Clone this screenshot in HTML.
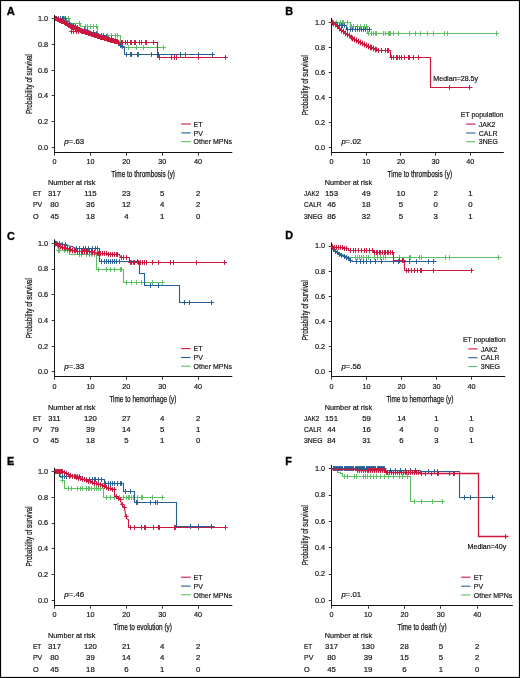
<!DOCTYPE html>
<html><head><meta charset="utf-8"><style>
html,body{margin:0;padding:0;background:#fff;}
svg{display:block;}
text{font-family:"Liberation Sans", sans-serif;}
.wrap{will-change:transform;width:520px;height:678px;overflow:hidden;}
text{stroke:#111;stroke-width:0.2px;}
.ti{stroke-width:0.25px;}
</style></head><body><div class="wrap">
<svg width="520" height="678" viewBox="0 0 520 678" font-family='"Liberation Sans", sans-serif'>
<rect x="0" y="0" width="520" height="678" fill="#fff"/>
<rect x="0.5" y="0.5" width="519" height="677" fill="none" stroke="#000" stroke-width="1.2"/>
<text x="6.7" y="14.8" font-size="10.8" textLength="8.1" lengthAdjust="spacingAndGlyphs" font-weight="bold" fill="#000" style="stroke:#000;stroke-width:0.35px">A</text>
<line x1="54.5" y1="15" x2="54.5" y2="153.0" stroke="#111" stroke-width="1.05"/>
<line x1="51.7" y1="147.50" x2="54.5" y2="147.50" stroke="#222" stroke-width="0.9"/>
<text x="48.1" y="149.54999999999998" font-size="7.7" text-anchor="end" textLength="10.2" lengthAdjust="spacingAndGlyphs" fill="#1a1a1a">0.0</text>
<line x1="51.7" y1="121.50" x2="54.5" y2="121.50" stroke="#222" stroke-width="0.9"/>
<text x="48.1" y="123.86999999999998" font-size="7.7" text-anchor="end" textLength="10.2" lengthAdjust="spacingAndGlyphs" fill="#1a1a1a">0.2</text>
<line x1="51.7" y1="95.50" x2="54.5" y2="95.50" stroke="#222" stroke-width="0.9"/>
<text x="48.1" y="98.18999999999997" font-size="7.7" text-anchor="end" textLength="10.2" lengthAdjust="spacingAndGlyphs" fill="#1a1a1a">0.4</text>
<line x1="51.7" y1="70.50" x2="54.5" y2="70.50" stroke="#222" stroke-width="0.9"/>
<text x="48.1" y="72.50999999999996" font-size="7.7" text-anchor="end" textLength="10.2" lengthAdjust="spacingAndGlyphs" fill="#1a1a1a">0.6</text>
<line x1="51.7" y1="44.50" x2="54.5" y2="44.50" stroke="#222" stroke-width="0.9"/>
<text x="48.1" y="46.82999999999998" font-size="7.7" text-anchor="end" textLength="10.2" lengthAdjust="spacingAndGlyphs" fill="#1a1a1a">0.8</text>
<line x1="51.7" y1="18.50" x2="54.5" y2="18.50" stroke="#222" stroke-width="0.9"/>
<text x="48.1" y="21.149999999999984" font-size="7.7" text-anchor="end" textLength="10.2" lengthAdjust="spacingAndGlyphs" fill="#1a1a1a">1.0</text>
<line x1="54.0" y1="152.5" x2="232.3" y2="152.5" stroke="#111" stroke-width="1.05"/>
<line x1="54.50" y1="152.5" x2="54.50" y2="155.7" stroke="#222" stroke-width="0.9"/>
<text x="54.50" y="164.0" font-size="7.6" text-anchor="middle" textLength="4.01" lengthAdjust="spacingAndGlyphs" fill="#1a1a1a">0</text>
<line x1="90.50" y1="152.5" x2="90.50" y2="155.7" stroke="#222" stroke-width="0.9"/>
<text x="90.40" y="164.0" font-size="7.6" text-anchor="middle" textLength="8.03" lengthAdjust="spacingAndGlyphs" fill="#1a1a1a">10</text>
<line x1="126.50" y1="152.5" x2="126.50" y2="155.7" stroke="#222" stroke-width="0.9"/>
<text x="126.30" y="164.0" font-size="7.6" text-anchor="middle" textLength="8.03" lengthAdjust="spacingAndGlyphs" fill="#1a1a1a">20</text>
<line x1="162.50" y1="152.5" x2="162.50" y2="155.7" stroke="#222" stroke-width="0.9"/>
<text x="162.20" y="164.0" font-size="7.6" text-anchor="middle" textLength="8.03" lengthAdjust="spacingAndGlyphs" fill="#1a1a1a">30</text>
<line x1="198.50" y1="152.5" x2="198.50" y2="155.7" stroke="#222" stroke-width="0.9"/>
<text x="198.10" y="164.0" font-size="7.6" text-anchor="middle" textLength="8.03" lengthAdjust="spacingAndGlyphs" fill="#1a1a1a">40</text>
<text x="111.2" y="176.9" font-size="8.8" textLength="63.8" lengthAdjust="spacingAndGlyphs" fill="#1a1a1a" class="ti">Time to thrombosis (y)</text>
<text class="ti" x="0" y="0" font-size="8.8" text-anchor="middle" textLength="60" lengthAdjust="spacingAndGlyphs" fill="#222" transform="translate(31.6,84.0) rotate(-90)">Probability of survival</text>
<text x="285.3" y="14.8" font-size="10.8" font-weight="bold" fill="#000" style="stroke:#000;stroke-width:0.35px">B</text>
<line x1="331.5" y1="18" x2="331.5" y2="153.0" stroke="#111" stroke-width="1.05"/>
<line x1="328.7" y1="147.50" x2="331.5" y2="147.50" stroke="#222" stroke-width="0.9"/>
<text x="325.1" y="149.7" font-size="7.7" text-anchor="end" textLength="10.2" lengthAdjust="spacingAndGlyphs" fill="#1a1a1a">0.0</text>
<line x1="328.7" y1="122.50" x2="331.5" y2="122.50" stroke="#222" stroke-width="0.9"/>
<text x="325.1" y="124.67999999999999" font-size="7.7" text-anchor="end" textLength="10.2" lengthAdjust="spacingAndGlyphs" fill="#1a1a1a">0.2</text>
<line x1="328.7" y1="97.50" x2="331.5" y2="97.50" stroke="#222" stroke-width="0.9"/>
<text x="325.1" y="99.66" font-size="7.7" text-anchor="end" textLength="10.2" lengthAdjust="spacingAndGlyphs" fill="#1a1a1a">0.4</text>
<line x1="328.7" y1="72.50" x2="331.5" y2="72.50" stroke="#222" stroke-width="0.9"/>
<text x="325.1" y="74.63999999999999" font-size="7.7" text-anchor="end" textLength="10.2" lengthAdjust="spacingAndGlyphs" fill="#1a1a1a">0.6</text>
<line x1="328.7" y1="47.50" x2="331.5" y2="47.50" stroke="#222" stroke-width="0.9"/>
<text x="325.1" y="49.62" font-size="7.7" text-anchor="end" textLength="10.2" lengthAdjust="spacingAndGlyphs" fill="#1a1a1a">0.8</text>
<line x1="328.7" y1="22.50" x2="331.5" y2="22.50" stroke="#222" stroke-width="0.9"/>
<text x="325.1" y="24.6" font-size="7.7" text-anchor="end" textLength="10.2" lengthAdjust="spacingAndGlyphs" fill="#1a1a1a">1.0</text>
<line x1="331.0" y1="152.5" x2="503.8" y2="152.5" stroke="#111" stroke-width="1.05"/>
<line x1="331.50" y1="152.5" x2="331.50" y2="155.7" stroke="#222" stroke-width="0.9"/>
<text x="331.50" y="164.0" font-size="7.6" text-anchor="middle" textLength="4.01" lengthAdjust="spacingAndGlyphs" fill="#1a1a1a">0</text>
<line x1="366.50" y1="152.5" x2="366.50" y2="155.7" stroke="#222" stroke-width="0.9"/>
<text x="366.20" y="164.0" font-size="7.6" text-anchor="middle" textLength="8.03" lengthAdjust="spacingAndGlyphs" fill="#1a1a1a">10</text>
<line x1="400.50" y1="152.5" x2="400.50" y2="155.7" stroke="#222" stroke-width="0.9"/>
<text x="400.90" y="164.0" font-size="7.6" text-anchor="middle" textLength="8.03" lengthAdjust="spacingAndGlyphs" fill="#1a1a1a">20</text>
<line x1="435.50" y1="152.5" x2="435.50" y2="155.7" stroke="#222" stroke-width="0.9"/>
<text x="435.60" y="164.0" font-size="7.6" text-anchor="middle" textLength="8.03" lengthAdjust="spacingAndGlyphs" fill="#1a1a1a">30</text>
<line x1="470.50" y1="152.5" x2="470.50" y2="155.7" stroke="#222" stroke-width="0.9"/>
<text x="470.30" y="164.0" font-size="7.6" text-anchor="middle" textLength="8.03" lengthAdjust="spacingAndGlyphs" fill="#1a1a1a">40</text>
<text x="387.6" y="176.9" font-size="8.8" textLength="64.59999999999997" lengthAdjust="spacingAndGlyphs" fill="#1a1a1a" class="ti">Time to thrombosis (y)</text>
<text class="ti" x="0" y="0" font-size="8.8" text-anchor="middle" textLength="60" lengthAdjust="spacingAndGlyphs" fill="#222" transform="translate(308.1,85.2) rotate(-90)">Probability of survival</text>
<text x="6.9" y="239.7" font-size="10.8" font-weight="bold" fill="#000" style="stroke:#000;stroke-width:0.35px">C</text>
<line x1="54.5" y1="239.3" x2="54.5" y2="377.0" stroke="#111" stroke-width="1.05"/>
<line x1="51.7" y1="371.50" x2="54.5" y2="371.50" stroke="#222" stroke-width="0.9"/>
<text x="48.1" y="374.25" font-size="7.7" text-anchor="end" textLength="10.2" lengthAdjust="spacingAndGlyphs" fill="#1a1a1a">0.0</text>
<line x1="51.7" y1="346.50" x2="54.5" y2="346.50" stroke="#222" stroke-width="0.9"/>
<text x="48.1" y="348.55" font-size="7.7" text-anchor="end" textLength="10.2" lengthAdjust="spacingAndGlyphs" fill="#1a1a1a">0.2</text>
<line x1="51.7" y1="320.50" x2="54.5" y2="320.50" stroke="#222" stroke-width="0.9"/>
<text x="48.1" y="322.85" font-size="7.7" text-anchor="end" textLength="10.2" lengthAdjust="spacingAndGlyphs" fill="#1a1a1a">0.4</text>
<line x1="51.7" y1="294.50" x2="54.5" y2="294.50" stroke="#222" stroke-width="0.9"/>
<text x="48.1" y="297.15" font-size="7.7" text-anchor="end" textLength="10.2" lengthAdjust="spacingAndGlyphs" fill="#1a1a1a">0.6</text>
<line x1="51.7" y1="269.50" x2="54.5" y2="269.50" stroke="#222" stroke-width="0.9"/>
<text x="48.1" y="271.45" font-size="7.7" text-anchor="end" textLength="10.2" lengthAdjust="spacingAndGlyphs" fill="#1a1a1a">0.8</text>
<line x1="51.7" y1="243.50" x2="54.5" y2="243.50" stroke="#222" stroke-width="0.9"/>
<text x="48.1" y="245.74999999999997" font-size="7.7" text-anchor="end" textLength="10.2" lengthAdjust="spacingAndGlyphs" fill="#1a1a1a">1.0</text>
<line x1="54.0" y1="376.5" x2="232.3" y2="376.5" stroke="#111" stroke-width="1.05"/>
<line x1="54.50" y1="376.5" x2="54.50" y2="379.7" stroke="#222" stroke-width="0.9"/>
<text x="54.50" y="388.79999999999995" font-size="7.6" text-anchor="middle" textLength="4.01" lengthAdjust="spacingAndGlyphs" fill="#1a1a1a">0</text>
<line x1="90.50" y1="376.5" x2="90.50" y2="379.7" stroke="#222" stroke-width="0.9"/>
<text x="90.40" y="388.79999999999995" font-size="7.6" text-anchor="middle" textLength="8.03" lengthAdjust="spacingAndGlyphs" fill="#1a1a1a">10</text>
<line x1="126.50" y1="376.5" x2="126.50" y2="379.7" stroke="#222" stroke-width="0.9"/>
<text x="126.30" y="388.79999999999995" font-size="7.6" text-anchor="middle" textLength="8.03" lengthAdjust="spacingAndGlyphs" fill="#1a1a1a">20</text>
<line x1="162.50" y1="376.5" x2="162.50" y2="379.7" stroke="#222" stroke-width="0.9"/>
<text x="162.20" y="388.79999999999995" font-size="7.6" text-anchor="middle" textLength="8.03" lengthAdjust="spacingAndGlyphs" fill="#1a1a1a">30</text>
<line x1="198.50" y1="376.5" x2="198.50" y2="379.7" stroke="#222" stroke-width="0.9"/>
<text x="198.10" y="388.79999999999995" font-size="7.6" text-anchor="middle" textLength="8.03" lengthAdjust="spacingAndGlyphs" fill="#1a1a1a">40</text>
<text x="109.4" y="401.6" font-size="8.8" textLength="67.0" lengthAdjust="spacingAndGlyphs" fill="#1a1a1a" class="ti">Time to hemorrhage (y)</text>
<text class="ti" x="0" y="0" font-size="8.8" text-anchor="middle" textLength="60" lengthAdjust="spacingAndGlyphs" fill="#222" transform="translate(31.6,308.2) rotate(-90)">Probability of survival</text>
<text x="285.3" y="239.0" font-size="10.8" font-weight="bold" fill="#000" style="stroke:#000;stroke-width:0.35px">D</text>
<line x1="331.5" y1="242.4" x2="331.5" y2="377.0" stroke="#111" stroke-width="1.05"/>
<line x1="328.7" y1="371.50" x2="331.5" y2="371.50" stroke="#222" stroke-width="0.9"/>
<text x="325.1" y="374.25" font-size="7.7" text-anchor="end" textLength="10.2" lengthAdjust="spacingAndGlyphs" fill="#1a1a1a">0.0</text>
<line x1="328.7" y1="346.50" x2="331.5" y2="346.50" stroke="#222" stroke-width="0.9"/>
<text x="325.1" y="349.09" font-size="7.7" text-anchor="end" textLength="10.2" lengthAdjust="spacingAndGlyphs" fill="#1a1a1a">0.2</text>
<line x1="328.7" y1="321.50" x2="331.5" y2="321.50" stroke="#222" stroke-width="0.9"/>
<text x="325.1" y="323.93" font-size="7.7" text-anchor="end" textLength="10.2" lengthAdjust="spacingAndGlyphs" fill="#1a1a1a">0.4</text>
<line x1="328.7" y1="296.50" x2="331.5" y2="296.50" stroke="#222" stroke-width="0.9"/>
<text x="325.1" y="298.77" font-size="7.7" text-anchor="end" textLength="10.2" lengthAdjust="spacingAndGlyphs" fill="#1a1a1a">0.6</text>
<line x1="328.7" y1="271.50" x2="331.5" y2="271.50" stroke="#222" stroke-width="0.9"/>
<text x="325.1" y="273.61" font-size="7.7" text-anchor="end" textLength="10.2" lengthAdjust="spacingAndGlyphs" fill="#1a1a1a">0.8</text>
<line x1="328.7" y1="246.50" x2="331.5" y2="246.50" stroke="#222" stroke-width="0.9"/>
<text x="325.1" y="248.44999999999996" font-size="7.7" text-anchor="end" textLength="10.2" lengthAdjust="spacingAndGlyphs" fill="#1a1a1a">1.0</text>
<line x1="331.0" y1="376.5" x2="505.2" y2="376.5" stroke="#111" stroke-width="1.05"/>
<line x1="331.50" y1="376.5" x2="331.50" y2="379.7" stroke="#222" stroke-width="0.9"/>
<text x="331.50" y="388.59999999999997" font-size="7.6" text-anchor="middle" textLength="4.01" lengthAdjust="spacingAndGlyphs" fill="#1a1a1a">0</text>
<line x1="366.50" y1="376.5" x2="366.50" y2="379.7" stroke="#222" stroke-width="0.9"/>
<text x="366.50" y="388.59999999999997" font-size="7.6" text-anchor="middle" textLength="8.03" lengthAdjust="spacingAndGlyphs" fill="#1a1a1a">10</text>
<line x1="401.50" y1="376.5" x2="401.50" y2="379.7" stroke="#222" stroke-width="0.9"/>
<text x="401.50" y="388.59999999999997" font-size="7.6" text-anchor="middle" textLength="8.03" lengthAdjust="spacingAndGlyphs" fill="#1a1a1a">20</text>
<line x1="436.50" y1="376.5" x2="436.50" y2="379.7" stroke="#222" stroke-width="0.9"/>
<text x="436.50" y="388.59999999999997" font-size="7.6" text-anchor="middle" textLength="8.03" lengthAdjust="spacingAndGlyphs" fill="#1a1a1a">30</text>
<line x1="471.50" y1="376.5" x2="471.50" y2="379.7" stroke="#222" stroke-width="0.9"/>
<text x="471.50" y="388.59999999999997" font-size="7.6" text-anchor="middle" textLength="8.03" lengthAdjust="spacingAndGlyphs" fill="#1a1a1a">40</text>
<text x="386.4" y="401.6" font-size="8.8" textLength="67.0" lengthAdjust="spacingAndGlyphs" fill="#1a1a1a" class="ti">Time to hemorrhage (y)</text>
<text class="ti" x="0" y="0" font-size="8.8" text-anchor="middle" textLength="60" lengthAdjust="spacingAndGlyphs" fill="#222" transform="translate(308.1,310.2) rotate(-90)">Probability of survival</text>
<text x="6.9" y="464.8" font-size="10.8" font-weight="bold" fill="#000" style="stroke:#000;stroke-width:0.35px">E</text>
<line x1="54.5" y1="467.7" x2="54.5" y2="606.0" stroke="#111" stroke-width="1.05"/>
<line x1="51.7" y1="600.50" x2="54.5" y2="600.50" stroke="#222" stroke-width="0.9"/>
<text x="48.1" y="602.5500000000001" font-size="7.7" text-anchor="end" textLength="10.2" lengthAdjust="spacingAndGlyphs" fill="#1a1a1a">0.0</text>
<line x1="51.7" y1="574.50" x2="54.5" y2="574.50" stroke="#222" stroke-width="0.9"/>
<text x="48.1" y="576.83" font-size="7.7" text-anchor="end" textLength="10.2" lengthAdjust="spacingAndGlyphs" fill="#1a1a1a">0.2</text>
<line x1="51.7" y1="548.50" x2="54.5" y2="548.50" stroke="#222" stroke-width="0.9"/>
<text x="48.1" y="551.11" font-size="7.7" text-anchor="end" textLength="10.2" lengthAdjust="spacingAndGlyphs" fill="#1a1a1a">0.4</text>
<line x1="51.7" y1="523.50" x2="54.5" y2="523.50" stroke="#222" stroke-width="0.9"/>
<text x="48.1" y="525.3900000000001" font-size="7.7" text-anchor="end" textLength="10.2" lengthAdjust="spacingAndGlyphs" fill="#1a1a1a">0.6</text>
<line x1="51.7" y1="497.50" x2="54.5" y2="497.50" stroke="#222" stroke-width="0.9"/>
<text x="48.1" y="499.6700000000001" font-size="7.7" text-anchor="end" textLength="10.2" lengthAdjust="spacingAndGlyphs" fill="#1a1a1a">0.8</text>
<line x1="51.7" y1="471.50" x2="54.5" y2="471.50" stroke="#222" stroke-width="0.9"/>
<text x="48.1" y="473.95000000000005" font-size="7.7" text-anchor="end" textLength="10.2" lengthAdjust="spacingAndGlyphs" fill="#1a1a1a">1.0</text>
<line x1="54.0" y1="605.5" x2="232.3" y2="605.5" stroke="#111" stroke-width="1.05"/>
<line x1="54.50" y1="605.5" x2="54.50" y2="608.7" stroke="#222" stroke-width="0.9"/>
<text x="54.50" y="617.0" font-size="7.6" text-anchor="middle" textLength="4.01" lengthAdjust="spacingAndGlyphs" fill="#1a1a1a">0</text>
<line x1="90.50" y1="605.5" x2="90.50" y2="608.7" stroke="#222" stroke-width="0.9"/>
<text x="90.40" y="617.0" font-size="7.6" text-anchor="middle" textLength="8.03" lengthAdjust="spacingAndGlyphs" fill="#1a1a1a">10</text>
<line x1="126.50" y1="605.5" x2="126.50" y2="608.7" stroke="#222" stroke-width="0.9"/>
<text x="126.30" y="617.0" font-size="7.6" text-anchor="middle" textLength="8.03" lengthAdjust="spacingAndGlyphs" fill="#1a1a1a">20</text>
<line x1="162.50" y1="605.5" x2="162.50" y2="608.7" stroke="#222" stroke-width="0.9"/>
<text x="162.20" y="617.0" font-size="7.6" text-anchor="middle" textLength="8.03" lengthAdjust="spacingAndGlyphs" fill="#1a1a1a">30</text>
<line x1="198.50" y1="605.5" x2="198.50" y2="608.7" stroke="#222" stroke-width="0.9"/>
<text x="198.10" y="617.0" font-size="7.6" text-anchor="middle" textLength="8.03" lengthAdjust="spacingAndGlyphs" fill="#1a1a1a">40</text>
<text x="113.6" y="629.9" font-size="8.8" textLength="58.400000000000006" lengthAdjust="spacingAndGlyphs" fill="#1a1a1a" class="ti">Time to evolution (y)</text>
<text class="ti" x="0" y="0" font-size="8.8" text-anchor="middle" textLength="60" lengthAdjust="spacingAndGlyphs" fill="#222" transform="translate(31.6,536.4) rotate(-90)">Probability of survival</text>
<text x="285.3" y="464.6" font-size="10.8" font-weight="bold" fill="#000" style="stroke:#000;stroke-width:0.35px">F</text>
<line x1="331.5" y1="465" x2="331.5" y2="606.0" stroke="#111" stroke-width="1.05"/>
<line x1="328.7" y1="600.50" x2="331.5" y2="600.50" stroke="#222" stroke-width="0.9"/>
<text x="325.20000000000005" y="602.65" font-size="7.7" text-anchor="end" textLength="10.2" lengthAdjust="spacingAndGlyphs" fill="#1a1a1a">0.0</text>
<line x1="328.7" y1="574.50" x2="331.5" y2="574.50" stroke="#222" stroke-width="0.9"/>
<text x="325.20000000000005" y="576.36" font-size="7.7" text-anchor="end" textLength="10.2" lengthAdjust="spacingAndGlyphs" fill="#1a1a1a">0.2</text>
<line x1="328.7" y1="547.50" x2="331.5" y2="547.50" stroke="#222" stroke-width="0.9"/>
<text x="325.20000000000005" y="550.0699999999999" font-size="7.7" text-anchor="end" textLength="10.2" lengthAdjust="spacingAndGlyphs" fill="#1a1a1a">0.4</text>
<line x1="328.7" y1="521.50" x2="331.5" y2="521.50" stroke="#222" stroke-width="0.9"/>
<text x="325.20000000000005" y="523.78" font-size="7.7" text-anchor="end" textLength="10.2" lengthAdjust="spacingAndGlyphs" fill="#1a1a1a">0.6</text>
<line x1="328.7" y1="495.50" x2="331.5" y2="495.50" stroke="#222" stroke-width="0.9"/>
<text x="325.20000000000005" y="497.49" font-size="7.7" text-anchor="end" textLength="10.2" lengthAdjust="spacingAndGlyphs" fill="#1a1a1a">0.8</text>
<line x1="328.7" y1="468.50" x2="331.5" y2="468.50" stroke="#222" stroke-width="0.9"/>
<text x="325.20000000000005" y="471.2" font-size="7.7" text-anchor="end" textLength="10.2" lengthAdjust="spacingAndGlyphs" fill="#1a1a1a">1.0</text>
<line x1="331.0" y1="605.5" x2="512.8" y2="605.5" stroke="#111" stroke-width="1.05"/>
<line x1="331.50" y1="605.5" x2="331.50" y2="608.7" stroke="#222" stroke-width="0.9"/>
<text x="331.60" y="617.1" font-size="7.6" text-anchor="middle" textLength="4.01" lengthAdjust="spacingAndGlyphs" fill="#1a1a1a">0</text>
<line x1="368.50" y1="605.5" x2="368.50" y2="608.7" stroke="#222" stroke-width="0.9"/>
<text x="368.00" y="617.1" font-size="7.6" text-anchor="middle" textLength="8.03" lengthAdjust="spacingAndGlyphs" fill="#1a1a1a">10</text>
<line x1="404.50" y1="605.5" x2="404.50" y2="608.7" stroke="#222" stroke-width="0.9"/>
<text x="404.40" y="617.1" font-size="7.6" text-anchor="middle" textLength="8.03" lengthAdjust="spacingAndGlyphs" fill="#1a1a1a">20</text>
<line x1="440.50" y1="605.5" x2="440.50" y2="608.7" stroke="#222" stroke-width="0.9"/>
<text x="440.80" y="617.1" font-size="7.6" text-anchor="middle" textLength="8.03" lengthAdjust="spacingAndGlyphs" fill="#1a1a1a">30</text>
<line x1="477.50" y1="605.5" x2="477.50" y2="608.7" stroke="#222" stroke-width="0.9"/>
<text x="477.20" y="617.1" font-size="7.6" text-anchor="middle" textLength="8.03" lengthAdjust="spacingAndGlyphs" fill="#1a1a1a">40</text>
<text x="397.4" y="629.9" font-size="8.8" textLength="49.200000000000045" lengthAdjust="spacingAndGlyphs" fill="#1a1a1a" class="ti">Time to death (y)</text>
<text class="ti" x="0" y="0" font-size="8.8" text-anchor="middle" textLength="60" lengthAdjust="spacingAndGlyphs" fill="#222" transform="translate(308.1,535.2) rotate(-90)">Probability of survival</text>
<path d="M54.50,18.50 L69.50,18.50 L69.50,23.50 L80.50,23.50 L80.50,26.50 L97.50,26.50 L97.50,35.50 L120.50,35.50 L120.50,47.50 L165.50,47.50" fill="none" stroke="#5cbf63" stroke-width="1.1"/>
<path d="M64.50,16.10V20.90M62.30,18.50H66.70M68.50,16.10V20.90M66.30,18.50H70.70M79.50,21.10V25.90M77.30,23.50H81.70M85.50,24.10V28.90M83.30,26.50H87.70M87.50,24.10V28.90M85.30,26.50H89.70M90.50,24.10V28.90M88.30,26.50H92.70M93.50,24.10V28.90M91.30,26.50H95.70M96.50,24.10V28.90M94.30,26.50H98.70M107.50,33.10V37.90M105.30,35.50H109.70M111.50,33.10V37.90M109.30,35.50H113.70M115.50,33.10V37.90M113.30,35.50H117.70M117.50,33.10V37.90M115.30,35.50H119.70M128.50,45.10V49.90M126.30,47.50H130.70M136.50,45.10V49.90M134.30,47.50H138.70M143.50,45.10V49.90M141.30,47.50H145.70M163.50,45.10V49.90M161.30,47.50H165.70" fill="none" stroke="#5cbf63" stroke-width="1.0"/>
<path d="M54.50,18.50 L65.50,18.50 L66.50,20.50 L69.50,22.50 L72.50,24.50 L76.50,26.50 L80.50,28.50 L89.50,31.50 L99.50,34.50 L108.50,37.50 L116.50,41.50 L120.50,45.50 L124.50,47.50 L124.50,54.50 L214.50,54.50" fill="none" stroke="#255f95" stroke-width="1.1"/>
<path d="M58.50,16.10V20.90M56.30,18.50H60.70M60.50,16.10V20.90M58.30,18.50H62.70M62.50,16.10V20.90M60.30,18.50H64.70M63.50,16.10V20.90M61.30,18.50H65.70M65.50,16.10V20.90M63.30,18.50H67.70M73.50,23.10V27.90M71.30,25.50H75.70M75.50,24.10V28.90M73.30,26.50H77.70M77.50,25.10V29.90M75.30,27.50H79.70M84.50,27.10V31.90M82.30,29.50H86.70M87.50,28.10V32.90M85.30,30.50H89.70M93.50,30.10V34.90M91.30,32.50H95.70M96.50,31.10V35.90M94.30,33.50H98.70M101.50,33.10V37.90M99.30,35.50H103.70M103.50,33.10V37.90M101.30,35.50H105.70M106.50,34.10V38.90M104.30,36.50H108.70M111.50,36.10V40.90M109.30,38.50H113.70M115.50,38.10V42.90M113.30,40.50H117.70M118.50,41.10V45.90M116.30,43.50H120.70M120.50,43.10V47.90M118.30,45.50H122.70M122.50,44.10V48.90M120.30,46.50H124.70M126.50,52.10V56.90M124.30,54.50H128.70M130.50,52.10V56.90M128.30,54.50H132.70M131.50,52.10V56.90M129.30,54.50H133.70M137.50,52.10V56.90M135.30,54.50H139.70M138.50,52.10V56.90M136.30,54.50H140.70M151.50,52.10V56.90M149.30,54.50H153.70M158.50,52.10V56.90M156.30,54.50H160.70M180.50,52.10V56.90M178.30,54.50H182.70M185.50,52.10V56.90M183.30,54.50H187.70M198.50,52.10V56.90M196.30,54.50H200.70M212.50,52.10V56.90M210.30,54.50H214.70" fill="none" stroke="#255f95" stroke-width="1.0"/>
<path d="M55.50,16.00V21.00M53.50,18.50H57.50M56.50,16.00V21.00M54.50,18.50H58.50M57.50,17.00V22.00M55.50,19.50H59.50M58.50,17.00V22.00M56.50,19.50H60.50M59.50,18.00V23.00M57.50,20.50H61.50M60.50,18.00V23.00M58.50,20.50H62.50M61.50,19.00V24.00M59.50,21.50H63.50M62.50,19.00V24.00M60.50,21.50H64.50M63.50,19.00V24.00M61.50,21.50H65.50M64.50,20.00V25.00M62.50,22.50H66.50M65.50,21.00V26.00M63.50,23.50H67.50M66.50,21.00V26.00M64.50,23.50H68.50M67.50,22.00V27.00M65.50,24.50H69.50M68.50,23.00V28.00M66.50,25.50H70.50M69.50,23.00V28.00M67.50,25.50H71.50M70.50,24.00V29.00M68.50,26.50H72.50M71.50,24.00V29.00M69.50,26.50H73.50M72.50,25.00V30.00M70.50,27.50H74.50M73.50,25.00V30.00M71.50,27.50H75.50M74.50,25.00V30.00M72.50,27.50H76.50M75.50,26.00V31.00M73.50,28.50H77.50M76.50,26.00V31.00M74.50,28.50H78.50M77.50,27.00V32.00M75.50,29.50H79.50M78.50,27.00V32.00M76.50,29.50H80.50M79.50,27.00V32.00M77.50,29.50H81.50M80.50,28.00V33.00M78.50,30.50H82.50M81.50,28.00V33.00M79.50,30.50H83.50M82.50,29.00V34.00M80.50,31.50H84.50M83.50,29.00V34.00M81.50,31.50H85.50M84.50,29.00V34.00M82.50,31.50H86.50M85.50,30.00V35.00M83.50,32.50H87.50M86.50,30.00V35.00M84.50,32.50H88.50M87.50,30.00V35.00M85.50,32.50H89.50M88.50,31.00V36.00M86.50,33.50H90.50M89.50,31.00V36.00M87.50,33.50H91.50M90.50,31.00V36.00M88.50,33.50H92.50M91.50,32.00V37.00M89.50,34.50H93.50M92.50,32.00V37.00M90.50,34.50H94.50M93.50,32.00V37.00M91.50,34.50H95.50M94.50,33.00V38.00M92.50,35.50H96.50M95.50,33.00V38.00M93.50,35.50H97.50M96.50,33.00V38.00M94.50,35.50H98.50M97.50,34.00V39.00M95.50,36.50H99.50M98.50,34.00V39.00M96.50,36.50H100.50M99.50,34.00V39.00M97.50,36.50H101.50M100.50,35.00V40.00M98.50,37.50H102.50M101.50,35.00V40.00M99.50,37.50H103.50M102.50,35.00V40.00M100.50,37.50H104.50M103.50,35.00V40.00M101.50,37.50H105.50M104.50,36.00V41.00M102.50,38.50H106.50M105.50,36.00V41.00M103.50,38.50H107.50M106.50,36.00V41.00M104.50,38.50H108.50M107.50,37.00V42.00M105.50,39.50H109.50M108.50,37.00V42.00M106.50,39.50H110.50M109.50,37.00V42.00M107.50,39.50H111.50M110.50,38.00V43.00M108.50,40.50H112.50M111.50,38.00V43.00M109.50,40.50H113.50M112.50,38.00V43.00M110.50,40.50H114.50M113.50,38.00V43.00M111.50,40.50H115.50M114.50,39.00V44.00M112.50,41.50H116.50M115.50,39.00V44.00M113.50,41.50H117.50M116.50,39.00V44.00M114.50,41.50H118.50M117.50,39.00V44.00M115.50,41.50H119.50M118.50,40.00V45.00M116.50,42.50H120.50" fill="none" stroke="#c9183f" stroke-width="1.0"/>
<path d="M54.50,18.50 L59.50,20.50 L64.50,22.50 L66.50,23.50 L70.50,26.50 L76.50,28.50 L80.50,30.50 L89.50,33.50 L99.50,36.50 L108.50,39.50 L119.50,42.50 L157.50,42.50 L157.50,57.50 L227.50,57.50" fill="none" stroke="#c9183f" stroke-width="1.1"/>
<path d="M121.50,40.10V44.90M119.30,42.50H123.70M122.50,40.10V44.90M120.30,42.50H124.70M125.50,40.10V44.90M123.30,42.50H127.70M127.50,40.10V44.90M125.30,42.50H129.70M130.50,40.10V44.90M128.30,42.50H132.70M131.50,40.10V44.90M129.30,42.50H133.70M134.50,40.10V44.90M132.30,42.50H136.70M135.50,40.10V44.90M133.30,42.50H137.70M139.50,40.10V44.90M137.30,42.50H141.70M141.50,40.10V44.90M139.30,42.50H143.70M145.50,40.10V44.90M143.30,42.50H147.70M146.50,40.10V44.90M144.30,42.50H148.70M153.50,40.10V44.90M151.30,42.50H155.70M159.50,55.10V59.90M157.30,57.50H161.70M171.50,55.10V59.90M169.30,57.50H173.70M174.50,55.10V59.90M172.30,57.50H176.70M176.50,55.10V59.90M174.30,57.50H178.70M198.50,55.10V59.90M196.30,57.50H200.70M225.50,55.10V59.90M223.30,57.50H227.70" fill="none" stroke="#c9183f" stroke-width="1.0"/>
<path d="M70.50,31.50 L83.50,31.50" fill="none" stroke="#c9183f" stroke-width="1.1"/>
<path d="M71.50,29.10V33.90M69.30,31.50H73.70M73.50,29.10V33.90M71.30,31.50H75.70M76.50,29.10V33.90M74.30,31.50H78.70M78.50,29.10V33.90M76.30,31.50H80.70M81.50,29.10V33.90M79.30,31.50H83.70" fill="none" stroke="#c9183f" stroke-width="1.0"/>
<path d="M331.50,22.50 L350.50,22.50 L350.50,26.50 L367.50,26.50 L367.50,33.50 L498.50,33.50" fill="none" stroke="#5cbf63" stroke-width="1.1"/>
<path d="M336.50,20.10V24.90M334.30,22.50H338.70M340.50,20.10V24.90M338.30,22.50H342.70M342.50,20.10V24.90M340.30,22.50H344.70M343.50,20.10V24.90M341.30,22.50H345.70M347.50,20.10V24.90M345.30,22.50H349.70M351.50,24.10V28.90M349.30,26.50H353.70M353.50,24.10V28.90M351.30,26.50H355.70M357.50,24.10V28.90M355.30,26.50H359.70M360.50,24.10V28.90M358.30,26.50H362.70M364.50,24.10V28.90M362.30,26.50H366.70M366.50,24.10V28.90M364.30,26.50H368.70M368.50,31.10V35.90M366.30,33.50H370.70M371.50,31.10V35.90M369.30,33.50H373.70M373.50,31.10V35.90M371.30,33.50H375.70M375.50,31.10V35.90M373.30,33.50H377.70M376.50,31.10V35.90M374.30,33.50H378.70M383.50,31.10V35.90M381.30,33.50H385.70M383.50,31.10V35.90M381.30,33.50H385.70M385.50,31.10V35.90M383.30,33.50H387.70M388.50,31.10V35.90M386.30,33.50H390.70M389.50,31.10V35.90M387.30,33.50H391.70M390.50,31.10V35.90M388.30,33.50H392.70M393.50,31.10V35.90M391.30,33.50H395.70M398.50,31.10V35.90M396.30,33.50H400.70M409.50,31.10V35.90M407.30,33.50H411.70M415.50,31.10V35.90M413.30,33.50H417.70M420.50,31.10V35.90M418.30,33.50H422.70M427.50,31.10V35.90M425.30,33.50H429.70M433.50,31.10V35.90M431.30,33.50H435.70M444.50,31.10V35.90M442.30,33.50H446.70M447.50,31.10V35.90M445.30,33.50H449.70M496.50,31.10V35.90M494.30,33.50H498.70" fill="none" stroke="#5cbf63" stroke-width="1.0"/>
<path d="M331.50,22.50 L337.50,22.50 L337.50,25.50 L346.50,25.50 L346.50,29.50 L371.50,29.50" fill="none" stroke="#255f95" stroke-width="1.1"/>
<path d="M339.50,23.20V27.80M337.30,25.50H341.70M341.50,23.20V27.80M339.30,25.50H343.70M342.50,23.20V27.80M340.30,25.50H344.70M344.50,23.20V27.80M342.30,25.50H346.70M347.50,27.20V31.80M345.30,29.50H349.70M350.50,27.20V31.80M348.30,29.50H352.70M352.50,27.20V31.80M350.30,29.50H354.70M355.50,27.20V31.80M353.30,29.50H357.70M357.50,27.20V31.80M355.30,29.50H359.70M359.50,27.20V31.80M357.30,29.50H361.70M361.50,27.20V31.80M359.30,29.50H363.70M363.50,27.20V31.80M361.30,29.50H365.70M365.50,27.20V31.80M363.30,29.50H367.70M369.50,27.20V31.80M367.30,29.50H371.70" fill="none" stroke="#255f95" stroke-width="1.0"/>
<path d="M332.50,19.60V25.40M330.20,22.50H334.80M333.50,20.60V26.40M331.20,23.50H335.80M335.50,21.60V27.40M333.20,24.50H337.80M337.50,23.60V29.40M335.20,26.50H339.80M339.50,25.60V31.40M337.20,28.50H341.80M341.50,27.60V33.40M339.20,30.50H343.80M343.50,28.60V34.40M341.20,31.50H345.80M345.50,30.60V36.40M343.20,33.50H347.80M347.50,31.60V37.40M345.20,34.50H349.80M349.50,32.60V38.40M347.20,35.50H351.80M351.50,34.60V40.40M349.20,37.50H353.80M352.50,35.60V41.40M350.20,38.50H354.80M354.50,36.60V42.40M352.20,39.50H356.80M356.50,37.60V43.40M354.20,40.50H358.80M358.50,38.60V44.40M356.20,41.50H360.80M360.50,39.60V45.40M358.20,42.50H362.80M362.50,40.60V46.40M360.20,43.50H364.80M364.50,41.60V47.40M362.20,44.50H366.80M366.50,42.60V48.40M364.20,45.50H368.80M368.50,43.60V49.40M366.20,46.50H370.80M370.50,44.60V50.40M368.20,47.50H372.80M371.50,44.60V50.40M369.20,47.50H373.80M373.50,45.60V51.40M371.20,48.50H375.80M375.50,46.60V52.40M373.20,49.50H377.80" fill="none" stroke="#c9183f" stroke-width="1.0"/>
<path d="M331.50,22.50 L333.50,23.50 L335.50,24.50 L338.50,27.50 L341.50,30.50 L345.50,33.50 L349.50,35.50 L354.50,39.50 L358.50,41.50 L363.50,44.50 L368.50,46.50 L372.50,48.50 L376.50,49.50 L377.50,50.50 L390.50,50.50 L390.50,57.50 L430.50,57.50 L430.50,87.50 L472.50,87.50" fill="none" stroke="#c9183f" stroke-width="1.2"/>
<path d="M376.50,47.10V51.90M374.30,49.50H378.70M378.50,48.10V52.90M376.30,50.50H380.70M381.50,48.10V52.90M379.30,50.50H383.70M385.50,48.10V52.90M383.30,50.50H387.70M387.50,48.10V52.90M385.30,50.50H389.70M388.50,48.10V52.90M386.30,50.50H390.70M391.50,55.10V59.90M389.30,57.50H393.70M393.50,55.10V59.90M391.30,57.50H395.70M396.50,55.10V59.90M394.30,57.50H398.70M397.50,55.10V59.90M395.30,57.50H399.70M399.50,55.10V59.90M397.30,57.50H401.70M401.50,55.10V59.90M399.30,57.50H403.70M404.50,55.10V59.90M402.30,57.50H406.70M408.50,55.10V59.90M406.30,57.50H410.70M409.50,55.10V59.90M407.30,57.50H411.70M413.50,55.10V59.90M411.30,57.50H415.70M418.50,55.10V59.90M416.30,57.50H420.70M449.50,85.10V89.90M447.30,87.50H451.70M469.50,85.10V89.90M467.30,87.50H471.70" fill="none" stroke="#c9183f" stroke-width="1.0"/>
<path d="M58.50,248.10V252.90M56.30,250.50H60.70M59.50,248.10V252.90M57.30,250.50H61.70M64.50,248.10V252.90M62.30,250.50H66.70M67.50,248.10V252.90M65.30,250.50H69.70" fill="none" stroke="#5cbf63" stroke-width="1.0"/>
<path d="M54.50,243.50 L58.50,246.50 L62.50,248.50 L69.50,249.50 L69.50,254.50 L96.50,254.50 L96.50,269.50 L123.50,269.50 L123.50,282.50 L164.50,282.50" fill="none" stroke="#5cbf63" stroke-width="1.1"/>
<path d="M79.50,252.10V256.90M77.30,254.50H81.70M81.50,252.10V256.90M79.30,254.50H83.70M86.50,252.10V256.90M84.30,254.50H88.70M89.50,252.10V256.90M87.30,254.50H91.70M91.50,252.10V256.90M89.30,254.50H93.70M94.50,252.10V256.90M92.30,254.50H96.70M98.50,267.10V271.90M96.30,269.50H100.70M106.50,267.10V271.90M104.30,269.50H108.70M110.50,267.10V271.90M108.30,269.50H112.70M114.50,267.10V271.90M112.30,269.50H116.70M120.50,267.10V271.90M118.30,269.50H122.70M121.50,267.10V271.90M119.30,269.50H123.70M126.50,280.10V284.90M124.30,282.50H128.70M131.50,280.10V284.90M129.30,282.50H133.70M136.50,280.10V284.90M134.30,282.50H138.70M141.50,280.10V284.90M139.30,282.50H143.70M152.50,280.10V284.90M150.30,282.50H154.70M162.50,280.10V284.90M160.30,282.50H164.70" fill="none" stroke="#5cbf63" stroke-width="1.0"/>
<path d="M54.50,243.50 L60.50,243.50 L66.50,245.50 L72.50,246.50 L75.50,248.50 L99.50,248.50 L99.50,261.50 L139.50,261.50 L139.50,273.50 L144.50,273.50 L144.50,285.50 L179.50,285.50 L179.50,302.50 L213.50,302.50" fill="none" stroke="#255f95" stroke-width="1.1"/>
<path d="M56.50,241.10V245.90M54.30,243.50H58.70M59.50,241.10V245.90M57.30,243.50H61.70M62.50,242.10V246.90M60.30,244.50H64.70M65.50,242.10V246.90M63.30,244.50H67.70M76.50,246.10V250.90M74.30,248.50H78.70M79.50,246.10V250.90M77.30,248.50H81.70M83.50,246.10V250.90M81.30,248.50H85.70M85.50,246.10V250.90M83.30,248.50H87.70M88.50,246.10V250.90M86.30,248.50H90.70M92.50,246.10V250.90M90.30,248.50H94.70M95.50,246.10V250.90M93.30,248.50H97.70M97.50,246.10V250.90M95.30,248.50H99.70M101.50,259.10V263.90M99.30,261.50H103.70M104.50,259.10V263.90M102.30,261.50H106.70M106.50,259.10V263.90M104.30,261.50H108.70M108.50,259.10V263.90M106.30,261.50H110.70M110.50,259.10V263.90M108.30,261.50H112.70M112.50,259.10V263.90M110.30,261.50H114.70M114.50,259.10V263.90M112.30,261.50H116.70M116.50,259.10V263.90M114.30,261.50H118.70M119.50,259.10V263.90M117.30,261.50H121.70M137.50,259.10V263.90M135.30,261.50H139.70M150.50,283.10V287.90M148.30,285.50H152.70M158.50,283.10V287.90M156.30,285.50H160.70M184.50,300.10V304.90M182.30,302.50H186.70M189.50,300.10V304.90M187.30,302.50H191.70M211.50,300.10V304.90M209.30,302.50H213.70" fill="none" stroke="#255f95" stroke-width="1.0"/>
<path d="M55.50,240.70V246.30M53.30,243.50H57.70M57.50,241.70V247.30M55.30,244.50H59.70M58.50,242.70V248.30M56.30,245.50H60.70M60.50,243.70V249.30M58.30,246.50H62.70M62.50,244.70V250.30M60.30,247.50H64.70M64.50,244.70V250.30M62.30,247.50H66.70M65.50,245.70V251.30M63.30,248.50H67.70M67.50,245.70V251.30M65.30,248.50H69.70M69.50,246.70V252.30M67.30,249.50H71.70M70.50,246.70V252.30M68.30,249.50H72.70M72.50,247.70V253.30M70.30,250.50H74.70M74.50,247.70V253.30M72.30,250.50H76.70M75.50,247.70V253.30M73.30,250.50H77.70M77.50,248.70V254.30M75.30,251.50H79.70M79.50,248.70V254.30M77.30,251.50H81.70M81.50,248.70V254.30M79.30,251.50H83.70M82.50,248.70V254.30M80.30,251.50H84.70M84.50,248.70V254.30M82.30,251.50H86.70M86.50,248.70V254.30M84.30,251.50H88.70M87.50,248.70V254.30M85.30,251.50H89.70M89.50,248.70V254.30M87.30,251.50H91.70M91.50,248.70V254.30M89.30,251.50H93.70M92.50,249.70V255.30M90.30,252.50H94.70M94.50,249.70V255.30M92.30,252.50H96.70" fill="none" stroke="#c9183f" stroke-width="1.0"/>
<path d="M54.50,243.50 L60.50,246.50 L68.50,249.50 L76.50,251.50 L91.50,251.50 L97.50,253.50 L119.50,254.50 L120.50,257.50 L129.50,257.50 L129.50,262.50 L226.50,262.50" fill="none" stroke="#c9183f" stroke-width="1.1"/>
<path d="M97.50,251.10V255.90M95.30,253.50H99.70M98.50,251.10V255.90M96.30,253.50H100.70M100.50,251.10V255.90M98.30,253.50H102.70M102.50,251.10V255.90M100.30,253.50H104.70M104.50,251.10V255.90M102.30,253.50H106.70M106.50,251.10V255.90M104.30,253.50H108.70M108.50,252.10V256.90M106.30,254.50H110.70M110.50,252.10V256.90M108.30,254.50H112.70M112.50,252.10V256.90M110.30,254.50H114.70M114.50,252.10V256.90M112.30,254.50H116.70M116.50,252.10V256.90M114.30,254.50H118.70M117.50,252.10V256.90M115.30,254.50H119.70M121.50,255.10V259.90M119.30,257.50H123.70M123.50,255.10V259.90M121.30,257.50H125.70M126.50,255.10V259.90M124.30,257.50H128.70M130.50,260.10V264.90M128.30,262.50H132.70M131.50,260.10V264.90M129.30,262.50H133.70M133.50,260.10V264.90M131.30,262.50H135.70M134.50,260.10V264.90M132.30,262.50H136.70M138.50,260.10V264.90M136.30,262.50H140.70M140.50,260.10V264.90M138.30,262.50H142.70M142.50,260.10V264.90M140.30,262.50H144.70M144.50,260.10V264.90M142.30,262.50H146.70M146.50,260.10V264.90M144.30,262.50H148.70M152.50,260.10V264.90M150.30,262.50H154.70M158.50,260.10V264.90M156.30,262.50H160.70M170.50,260.10V264.90M168.30,262.50H172.70M173.50,260.10V264.90M171.30,262.50H175.70M196.50,260.10V264.90M194.30,262.50H198.70M224.50,260.10V264.90M222.30,262.50H226.70" fill="none" stroke="#c9183f" stroke-width="1.0"/>
<path d="M331.50,246.50 L333.50,249.50 L338.50,252.50 L344.50,255.50 L348.50,257.50 L352.50,257.50 L501.50,257.50" fill="none" stroke="#5cbf63" stroke-width="1.1"/>
<path d="M355.50,255.10V259.90M353.30,257.50H357.70M357.50,255.10V259.90M355.30,257.50H359.70M359.50,255.10V259.90M357.30,257.50H361.70M361.50,255.10V259.90M359.30,257.50H363.70M363.50,255.10V259.90M361.30,257.50H365.70M366.50,255.10V259.90M364.30,257.50H368.70M368.50,255.10V259.90M366.30,257.50H370.70M374.50,255.10V259.90M372.30,257.50H376.70M377.50,255.10V259.90M375.30,257.50H379.70M380.50,255.10V259.90M378.30,257.50H382.70M383.50,255.10V259.90M381.30,257.50H385.70M385.50,255.10V259.90M383.30,257.50H387.70M399.50,255.10V259.90M397.30,257.50H401.70M409.50,255.10V259.90M407.30,257.50H411.70M410.50,255.10V259.90M408.30,257.50H412.70M419.50,255.10V259.90M417.30,257.50H421.70M421.50,255.10V259.90M419.30,257.50H423.70M445.50,255.10V259.90M443.30,257.50H447.70M449.50,255.10V259.90M447.30,257.50H451.70M498.50,255.10V259.90M496.30,257.50H500.70" fill="none" stroke="#5cbf63" stroke-width="1.0"/>
<path d="M331.50,246.50 L333.50,250.50 L338.50,253.50 L344.50,256.50 L348.50,258.50 L352.50,261.50 L436.50,261.50" fill="none" stroke="#255f95" stroke-width="1.1"/>
<path d="M333.50,247.10V251.90M331.30,249.50H335.70M335.50,249.10V253.90M333.30,251.50H337.70M337.50,250.10V254.90M335.30,252.50H339.70M339.50,252.10V256.90M337.30,254.50H341.70M341.50,253.10V257.90M339.30,255.50H343.70M344.50,254.10V258.90M342.30,256.50H346.70M346.50,255.10V259.90M344.30,257.50H348.70M348.50,256.10V260.90M346.30,258.50H350.70M350.50,258.10V262.90M348.30,260.50H352.70M356.50,259.10V263.90M354.30,261.50H358.70M360.50,259.10V263.90M358.30,261.50H362.70M363.50,259.10V263.90M361.30,261.50H365.70M366.50,259.10V263.90M364.30,261.50H368.70M370.50,259.10V263.90M368.30,261.50H372.70M375.50,259.10V263.90M373.30,261.50H377.70M381.50,259.10V263.90M379.30,261.50H383.70M393.50,259.10V263.90M391.30,261.50H395.70M398.50,259.10V263.90M396.30,261.50H400.70M409.50,259.10V263.90M407.30,261.50H411.70M416.50,259.10V263.90M414.30,261.50H418.70M428.50,259.10V263.90M426.30,261.50H430.70M433.50,259.10V263.90M431.30,261.50H435.70" fill="none" stroke="#255f95" stroke-width="1.0"/>
<path d="M331.50,246.50 L336.50,247.50 L341.50,247.50 L348.50,248.50 L348.50,250.50 L373.50,250.50 L373.50,252.50 L393.50,252.50 L393.50,260.50 L404.50,260.50 L404.50,270.50 L473.50,270.50" fill="none" stroke="#c9183f" stroke-width="1.1"/>
<path d="M332.50,244.10V248.90M330.30,246.50H334.70M334.50,245.10V249.90M332.30,247.50H336.70M336.50,245.10V249.90M334.30,247.50H338.70M338.50,245.10V249.90M336.30,247.50H340.70M340.50,245.10V249.90M338.30,247.50H342.70M342.50,245.10V249.90M340.30,247.50H344.70M344.50,246.10V250.90M342.30,248.50H346.70M346.50,246.10V250.90M344.30,248.50H348.70M350.50,248.10V252.90M348.30,250.50H352.70M353.50,248.10V252.90M351.30,250.50H355.70M355.50,248.10V252.90M353.30,250.50H357.70M358.50,248.10V252.90M356.30,250.50H360.70M361.50,248.10V252.90M359.30,250.50H363.70M364.50,248.10V252.90M362.30,250.50H366.70M366.50,248.10V252.90M364.30,250.50H368.70M369.50,248.10V252.90M367.30,250.50H371.70M372.50,248.10V252.90M370.30,250.50H374.70M374.50,250.10V254.90M372.30,252.50H376.70M376.50,250.10V254.90M374.30,252.50H378.70M377.50,250.10V254.90M375.30,252.50H379.70M379.50,250.10V254.90M377.30,252.50H381.70M380.50,250.10V254.90M378.30,252.50H382.70M382.50,250.10V254.90M380.30,252.50H384.70M384.50,250.10V254.90M382.30,252.50H386.70M385.50,250.10V254.90M383.30,252.50H387.70M387.50,250.10V254.90M385.30,252.50H389.70M388.50,250.10V254.90M386.30,252.50H390.70M390.50,250.10V254.90M388.30,252.50H392.70M392.50,250.10V254.90M390.30,252.50H394.70M399.50,258.10V262.90M397.30,260.50H401.70M402.50,258.10V262.90M400.30,260.50H404.70M403.50,258.10V262.90M401.30,260.50H405.70M406.50,268.10V272.90M404.30,270.50H408.70M408.50,268.10V272.90M406.30,270.50H410.70M411.50,268.10V272.90M409.30,270.50H413.70M414.50,268.10V272.90M412.30,270.50H416.70M417.50,268.10V272.90M415.30,270.50H419.70M420.50,268.10V272.90M418.30,270.50H422.70M421.50,268.10V272.90M419.30,270.50H423.70M433.50,268.10V272.90M431.30,270.50H435.70M471.50,268.10V272.90M469.30,270.50H473.70" fill="none" stroke="#c9183f" stroke-width="1.0"/>
<path d="M54.50,471.50 L60.50,471.50 L60.50,477.50 L62.50,477.50 L62.50,480.50 L64.50,480.50 L64.50,488.50 L103.50,488.50 L103.50,497.50 L164.50,497.50" fill="none" stroke="#5cbf63" stroke-width="1.1"/>
<path d="M62.50,478.10V482.90M60.30,480.50H64.70M68.50,486.10V490.90M66.30,488.50H70.70M71.50,486.10V490.90M69.30,488.50H73.70M77.50,486.10V490.90M75.30,488.50H79.70M80.50,486.10V490.90M78.30,488.50H82.70M82.50,486.10V490.90M80.30,488.50H84.70M86.50,486.10V490.90M84.30,488.50H88.70M88.50,486.10V490.90M86.30,488.50H90.70M89.50,486.10V490.90M87.30,488.50H91.70M91.50,486.10V490.90M89.30,488.50H93.70M94.50,486.10V490.90M92.30,488.50H96.70M96.50,486.10V490.90M94.30,488.50H98.70M98.50,486.10V490.90M96.30,488.50H100.70M100.50,486.10V490.90M98.30,488.50H102.70M106.50,495.10V499.90M104.30,497.50H108.70M110.50,495.10V499.90M108.30,497.50H112.70M114.50,495.10V499.90M112.30,497.50H116.70M119.50,495.10V499.90M117.30,497.50H121.70M123.50,495.10V499.90M121.30,497.50H125.70M126.50,495.10V499.90M124.30,497.50H128.70M128.50,495.10V499.90M126.30,497.50H130.70M129.50,495.10V499.90M127.30,497.50H131.70M131.50,495.10V499.90M129.30,497.50H133.70M133.50,495.10V499.90M131.30,497.50H135.70M137.50,495.10V499.90M135.30,497.50H139.70M141.50,495.10V499.90M139.30,497.50H143.70M142.50,495.10V499.90M140.30,497.50H144.70M152.50,495.10V499.90M150.30,497.50H154.70M162.50,495.10V499.90M160.30,497.50H164.70" fill="none" stroke="#5cbf63" stroke-width="1.0"/>
<path d="M54.50,471.50 L59.50,471.50 L59.50,476.50 L82.50,476.50 L82.50,479.50 L104.50,479.50 L104.50,483.50 L123.50,483.50 L123.50,491.50 L134.50,491.50 L134.50,502.50 L176.50,502.50 L176.50,526.50 L214.50,526.50" fill="none" stroke="#255f95" stroke-width="1.1"/>
<path d="M62.50,474.10V478.90M60.30,476.50H64.70M64.50,474.10V478.90M62.30,476.50H66.70M66.50,474.10V478.90M64.30,476.50H68.70M69.50,474.10V478.90M67.30,476.50H71.70M75.50,474.10V478.90M73.30,476.50H77.70M77.50,474.10V478.90M75.30,476.50H79.70M79.50,474.10V478.90M77.30,476.50H81.70M84.50,477.10V481.90M82.30,479.50H86.70M86.50,477.10V481.90M84.30,479.50H88.70M89.50,477.10V481.90M87.30,479.50H91.70M92.50,477.10V481.90M90.30,479.50H94.70M94.50,477.10V481.90M92.30,479.50H96.70M95.50,477.10V481.90M93.30,479.50H97.70M98.50,477.10V481.90M96.30,479.50H100.70M101.50,477.10V481.90M99.30,479.50H103.70M105.50,481.10V485.90M103.30,483.50H107.70M108.50,481.10V485.90M106.30,483.50H110.70M110.50,481.10V485.90M108.30,483.50H112.70M112.50,481.10V485.90M110.30,483.50H114.70M114.50,481.10V485.90M112.30,483.50H116.70M117.50,481.10V485.90M115.30,483.50H119.70M120.50,481.10V485.90M118.30,483.50H122.70M121.50,481.10V485.90M119.30,483.50H123.70M125.50,489.10V493.90M123.30,491.50H127.70M130.50,489.10V493.90M128.30,491.50H132.70M136.50,500.10V504.90M134.30,502.50H138.70M137.50,500.10V504.90M135.30,502.50H139.70M150.50,500.10V504.90M148.30,502.50H152.70M155.50,500.10V504.90M153.30,502.50H157.70M157.50,500.10V504.90M155.30,502.50H159.70M190.50,524.10V528.90M188.30,526.50H192.70M198.50,524.10V528.90M196.30,526.50H200.70M211.50,524.10V528.90M209.30,526.50H213.70" fill="none" stroke="#255f95" stroke-width="1.0"/>
<path d="M55.50,469.10V473.90M53.30,471.50H57.70M56.50,469.10V473.90M54.30,471.50H58.70M57.50,469.10V473.90M55.30,471.50H59.70M58.50,469.10V473.90M56.30,471.50H60.70M59.50,469.10V473.90M57.30,471.50H61.70M60.50,469.10V473.90M58.30,471.50H62.70M60.50,469.10V473.90M58.30,471.50H62.70M61.50,469.10V473.90M59.30,471.50H63.70M62.50,469.10V473.90M60.30,471.50H64.70" fill="none" stroke="#c9183f" stroke-width="1.0"/>
<path d="M54.50,471.50 L63.50,471.50 L66.50,473.50 L69.50,474.50 L76.50,477.50 L84.50,479.50 L91.50,482.50 L95.50,483.50 L100.50,484.50 L105.50,487.50 L109.50,488.50 L114.50,489.50 L114.50,495.50 L116.50,497.50 L120.50,499.50 L121.50,504.50 L124.50,507.50 L125.50,514.50 L126.50,518.50 L128.50,519.50 L128.50,527.50 L226.50,527.50" fill="none" stroke="#c9183f" stroke-width="1.1"/>
<path d="M64.50,470.10V474.90M62.30,472.50H66.70M66.50,471.10V475.90M64.30,473.50H68.70M68.50,472.10V476.90M66.30,474.50H70.70M70.50,473.10V477.90M68.30,475.50H72.70M72.50,474.10V478.90M70.30,476.50H74.70M74.50,474.10V478.90M72.30,476.50H76.70M76.50,475.10V479.90M74.30,477.50H78.70M78.50,476.10V480.90M76.30,478.50H80.70M80.50,476.10V480.90M78.30,478.50H82.70M82.50,477.10V481.90M80.30,479.50H84.70M84.50,477.10V481.90M82.30,479.50H86.70M86.50,478.10V482.90M84.30,480.50H88.70M88.50,479.10V483.90M86.30,481.50H90.70M90.50,479.10V483.90M88.30,481.50H92.70M92.50,480.10V484.90M90.30,482.50H94.70M94.50,481.10V485.90M92.30,483.50H96.70M96.50,481.10V485.90M94.30,483.50H98.70M98.50,482.10V486.90M96.30,484.50H100.70M100.50,482.10V486.90M98.30,484.50H102.70M102.50,483.10V487.90M100.30,485.50H104.70M104.50,484.10V488.90M102.30,486.50H106.70M106.50,485.10V489.90M104.30,487.50H108.70M108.50,486.10V490.90M106.30,488.50H110.70M110.50,486.10V490.90M108.30,488.50H112.70M112.50,487.10V491.90M110.30,489.50H114.70M114.50,487.10V491.90M112.30,489.50H116.70M116.50,494.10V498.90M114.30,496.50H118.70M118.50,496.10V500.90M116.30,498.50H120.70M120.50,497.10V501.90M118.30,499.50H122.70M122.50,502.10V506.90M120.30,504.50H124.70M124.50,505.10V509.90M122.30,507.50H126.70M126.50,514.10V518.90M124.30,516.50H128.70M130.50,525.10V529.90M128.30,527.50H132.70M134.50,525.10V529.90M132.30,527.50H136.70M141.50,525.10V529.90M139.30,527.50H143.70M144.50,525.10V529.90M142.30,527.50H146.70M145.50,525.10V529.90M143.30,527.50H147.70M153.50,525.10V529.90M151.30,527.50H155.70M158.50,525.10V529.90M156.30,527.50H160.70M159.50,525.10V529.90M157.30,527.50H161.70M174.50,525.10V529.90M172.30,527.50H176.70M175.50,525.10V529.90M173.30,527.50H177.70M198.50,525.10V529.90M196.30,527.50H200.70M225.50,525.10V529.90M223.30,527.50H227.70" fill="none" stroke="#c9183f" stroke-width="1.0"/>
<path d="M176.50,526.50 L214.50,526.50" fill="none" stroke="#255f95" stroke-width="1.1"/>
<path d="M190.50,524.10V528.90M188.30,526.50H192.70M198.50,524.10V528.90M196.30,526.50H200.70M211.50,524.10V528.90M209.30,526.50H213.70" fill="none" stroke="#255f95" stroke-width="1.0"/>
<path d="M331.50,468.50 L337.50,468.50 L337.50,472.50 L340.50,472.50 L340.50,473.50 L342.50,473.50 L342.50,476.50 L410.50,476.50 L410.50,501.50 L444.50,501.50" fill="none" stroke="#5cbf63" stroke-width="1.1"/>
<path d="M344.50,474.10V478.90M342.30,476.50H346.70M347.50,474.10V478.90M345.30,476.50H349.70M354.50,474.10V478.90M352.30,476.50H356.70M356.50,474.10V478.90M354.30,476.50H358.70M363.50,474.10V478.90M361.30,476.50H365.70M365.50,474.10V478.90M363.30,476.50H367.70M367.50,474.10V478.90M365.30,476.50H369.70M370.50,474.10V478.90M368.30,476.50H372.70M373.50,474.10V478.90M371.30,476.50H375.70M376.50,474.10V478.90M374.30,476.50H378.70M376.50,474.10V478.90M374.30,476.50H378.70M380.50,474.10V478.90M378.30,476.50H382.70M384.50,474.10V478.90M382.30,476.50H386.70M388.50,474.10V478.90M386.30,476.50H390.70M393.50,474.10V478.90M391.30,476.50H395.70M399.50,474.10V478.90M397.30,476.50H401.70M402.50,474.10V478.90M400.30,476.50H404.70M407.50,474.10V478.90M405.30,476.50H409.70M414.50,499.10V503.90M412.30,501.50H416.70M421.50,499.10V503.90M419.30,501.50H423.70M432.50,499.10V503.90M430.30,501.50H434.70M442.50,499.10V503.90M440.30,501.50H444.70" fill="none" stroke="#5cbf63" stroke-width="1.0"/>
<path d="M331.50,468.50 L385.50,468.50 L385.50,470.50 L420.50,470.50 L420.50,471.50 L459.50,471.50 L459.50,497.50 L494.50,497.50" fill="none" stroke="#255f95" stroke-width="1.1"/>
<path d="M333.50,466.10V470.90M331.30,468.50H335.70M334.50,466.10V470.90M332.30,468.50H336.70M335.50,466.10V470.90M333.30,468.50H337.70M336.50,466.10V470.90M334.30,468.50H338.70M337.50,466.10V470.90M335.30,468.50H339.70M338.50,466.10V470.90M336.30,468.50H340.70M339.50,466.10V470.90M337.30,468.50H341.70M340.50,466.10V470.90M338.30,468.50H342.70M341.50,466.10V470.90M339.30,468.50H343.70M342.50,466.10V470.90M340.30,468.50H344.70M344.50,466.10V470.90M342.30,468.50H346.70M345.50,466.10V470.90M343.30,468.50H347.70M346.50,466.10V470.90M344.30,468.50H348.70M347.50,466.10V470.90M345.30,468.50H349.70M348.50,466.10V470.90M346.30,468.50H350.70M349.50,466.10V470.90M347.30,468.50H351.70M350.50,466.10V470.90M348.30,468.50H352.70M351.50,466.10V470.90M349.30,468.50H353.70M352.50,466.10V470.90M350.30,468.50H354.70M353.50,466.10V470.90M351.30,468.50H355.70M355.50,466.10V470.90M353.30,468.50H357.70M356.50,466.10V470.90M354.30,468.50H358.70M357.50,466.10V470.90M355.30,468.50H359.70M358.50,466.10V470.90M356.30,468.50H360.70M359.50,466.10V470.90M357.30,468.50H361.70M360.50,466.10V470.90M358.30,468.50H362.70M361.50,466.10V470.90M359.30,468.50H363.70M362.50,466.10V470.90M360.30,468.50H364.70M363.50,466.10V470.90M361.30,468.50H365.70M364.50,466.10V470.90M362.30,468.50H366.70M366.50,466.10V470.90M364.30,468.50H368.70M367.50,466.10V470.90M365.30,468.50H369.70M368.50,466.10V470.90M366.30,468.50H370.70M369.50,466.10V470.90M367.30,468.50H371.70M370.50,466.10V470.90M368.30,468.50H372.70M371.50,466.10V470.90M369.30,468.50H373.70M372.50,466.10V470.90M370.30,468.50H374.70M373.50,466.10V470.90M371.30,468.50H375.70M374.50,466.10V470.90M372.30,468.50H376.70M375.50,466.10V470.90M373.30,468.50H377.70M377.50,466.10V470.90M375.30,468.50H379.70M378.50,466.10V470.90M376.30,468.50H380.70M379.50,466.10V470.90M377.30,468.50H381.70M380.50,466.10V470.90M378.30,468.50H382.70M381.50,466.10V470.90M379.30,468.50H383.70M382.50,466.10V470.90M380.30,468.50H384.70M383.50,466.10V470.90M381.30,468.50H385.70M384.50,466.10V470.90M382.30,468.50H386.70M390.50,468.10V472.90M388.30,470.50H392.70M395.50,468.10V472.90M393.30,470.50H397.70M400.50,468.10V472.90M398.30,470.50H402.70M405.50,468.10V472.90M403.30,470.50H407.70M410.50,468.10V472.90M408.30,470.50H412.70M415.50,468.10V472.90M413.30,470.50H417.70M428.50,469.10V473.90M426.30,471.50H430.70M434.50,469.10V473.90M432.30,471.50H436.70M437.50,469.10V473.90M435.30,471.50H439.70M464.50,495.10V499.90M462.30,497.50H466.70M470.50,495.10V499.90M468.30,497.50H472.70M478.50,495.10V499.90M476.30,497.50H480.70M492.50,495.10V499.90M490.30,497.50H494.70" fill="none" stroke="#255f95" stroke-width="1.0"/>
<path d="M331.50,469.50 L357.50,469.50 L357.50,470.50 L385.50,470.50 L385.50,472.50 L420.50,472.50 L420.50,473.50 L478.50,473.50 L478.50,536.50 L508.50,536.50" fill="none" stroke="#c9183f" stroke-width="1.3"/>
<path d="M357.50,468.10V472.90M355.30,470.50H359.70M359.50,468.10V472.90M357.30,470.50H361.70M361.50,468.10V472.90M359.30,470.50H363.70M363.50,468.10V472.90M361.30,470.50H365.70M365.50,468.10V472.90M363.30,470.50H367.70M367.50,468.10V472.90M365.30,470.50H369.70M368.50,468.10V472.90M366.30,470.50H370.70M370.50,468.10V472.90M368.30,470.50H372.70M372.50,468.10V472.90M370.30,470.50H374.70M374.50,468.10V472.90M372.30,470.50H376.70M376.50,468.10V472.90M374.30,470.50H378.70M378.50,468.10V472.90M376.30,470.50H380.70M380.50,468.10V472.90M378.30,470.50H382.70M382.50,468.10V472.90M380.30,470.50H384.70M384.50,468.10V472.90M382.30,470.50H386.70M386.50,470.10V474.90M384.30,472.50H388.70M387.50,470.10V474.90M385.30,472.50H389.70M389.50,470.10V474.90M387.30,472.50H391.70M391.50,470.10V474.90M389.30,472.50H393.70M393.50,470.10V474.90M391.30,472.50H395.70M395.50,470.10V474.90M393.30,472.50H397.70M397.50,470.10V474.90M395.30,472.50H399.70M399.50,470.10V474.90M397.30,472.50H401.70M401.50,470.10V474.90M399.30,472.50H403.70M403.50,470.10V474.90M401.30,472.50H405.70M405.50,470.10V474.90M403.30,472.50H407.70M406.50,470.10V474.90M404.30,472.50H408.70M408.50,470.10V474.90M406.30,472.50H410.70M410.50,470.10V474.90M408.30,472.50H412.70M412.50,470.10V474.90M410.30,472.50H414.70M414.50,470.10V474.90M412.30,472.50H416.70M416.50,470.10V474.90M414.30,472.50H418.70M418.50,470.10V474.90M416.30,472.50H420.70M421.50,471.10V475.90M419.30,473.50H423.70M425.50,471.10V475.90M423.30,473.50H427.70M431.50,471.10V475.90M429.30,473.50H433.70M437.50,471.10V475.90M435.30,473.50H439.70M438.50,471.10V475.90M436.30,473.50H440.70M449.50,471.10V475.90M447.30,473.50H451.70M453.50,471.10V475.90M451.30,473.50H455.70M454.50,471.10V475.90M452.30,473.50H456.70M505.50,534.10V538.90M503.30,536.50H507.70" fill="none" stroke="#c9183f" stroke-width="1.0"/>
<line x1="181.2" y1="124.0" x2="190.8" y2="124.0" stroke="#c9183f" stroke-width="1.1"/>
<text x="193.6" y="126.7" font-size="7.6" textLength="8.93" lengthAdjust="spacingAndGlyphs" fill="#1a1a1a">ET</text>
<line x1="181.2" y1="132.9" x2="190.8" y2="132.9" stroke="#255f95" stroke-width="1.1"/>
<text x="193.6" y="135.6" font-size="7.6" textLength="9.33" lengthAdjust="spacingAndGlyphs" fill="#1a1a1a">PV</text>
<line x1="181.2" y1="141.6" x2="190.8" y2="141.6" stroke="#5cbf63" stroke-width="1.1"/>
<text x="193.6" y="144.29999999999998" font-size="7.6" textLength="38.46" lengthAdjust="spacingAndGlyphs" fill="#1a1a1a">Other MPNs</text>
<text x="460.8" y="117.2" font-size="7.6" textLength="42.6" lengthAdjust="spacingAndGlyphs" fill="#1a1a1a">ET population</text>
<line x1="466.2" y1="124.1" x2="475.5" y2="124.1" stroke="#c9183f" stroke-width="1.1"/>
<text x="478.8" y="126.8" font-size="7.6" textLength="16.71" lengthAdjust="spacingAndGlyphs" fill="#1a1a1a">JAK2</text>
<line x1="466.2" y1="133.0" x2="475.5" y2="133.0" stroke="#255f95" stroke-width="1.1"/>
<text x="478.8" y="135.7" font-size="7.6" textLength="18.65" lengthAdjust="spacingAndGlyphs" fill="#1a1a1a">CALR</text>
<line x1="466.2" y1="141.7" x2="475.5" y2="141.7" stroke="#5cbf63" stroke-width="1.1"/>
<text x="478.8" y="144.39999999999998" font-size="7.6" textLength="19.04" lengthAdjust="spacingAndGlyphs" fill="#1a1a1a">3NEG</text>
<line x1="181.1" y1="348.6" x2="190.6" y2="348.6" stroke="#c9183f" stroke-width="1.1"/>
<text x="193.5" y="351.3" font-size="7.6" textLength="8.93" lengthAdjust="spacingAndGlyphs" fill="#1a1a1a">ET</text>
<line x1="181.1" y1="357.5" x2="190.6" y2="357.5" stroke="#255f95" stroke-width="1.1"/>
<text x="193.5" y="360.2" font-size="7.6" textLength="9.33" lengthAdjust="spacingAndGlyphs" fill="#1a1a1a">PV</text>
<line x1="181.1" y1="366.2" x2="190.6" y2="366.2" stroke="#5cbf63" stroke-width="1.1"/>
<text x="193.5" y="368.9" font-size="7.6" textLength="38.46" lengthAdjust="spacingAndGlyphs" fill="#1a1a1a">Other MPNs</text>
<text x="463.0" y="342.0" font-size="7.6" textLength="42.6" lengthAdjust="spacingAndGlyphs" fill="#1a1a1a">ET population</text>
<line x1="468.3" y1="348.9" x2="477.5" y2="348.9" stroke="#c9183f" stroke-width="1.1"/>
<text x="480.8" y="351.59999999999997" font-size="7.6" textLength="16.71" lengthAdjust="spacingAndGlyphs" fill="#1a1a1a">JAK2</text>
<line x1="468.3" y1="357.7" x2="477.5" y2="357.7" stroke="#255f95" stroke-width="1.1"/>
<text x="480.8" y="360.4" font-size="7.6" textLength="18.65" lengthAdjust="spacingAndGlyphs" fill="#1a1a1a">CALR</text>
<line x1="468.3" y1="366.5" x2="477.5" y2="366.5" stroke="#5cbf63" stroke-width="1.1"/>
<text x="480.8" y="369.2" font-size="7.6" textLength="19.04" lengthAdjust="spacingAndGlyphs" fill="#1a1a1a">3NEG</text>
<line x1="181.1" y1="577.2" x2="190.6" y2="577.2" stroke="#c9183f" stroke-width="1.1"/>
<text x="193.5" y="579.9000000000001" font-size="7.6" textLength="8.93" lengthAdjust="spacingAndGlyphs" fill="#1a1a1a">ET</text>
<line x1="181.1" y1="586.1" x2="190.6" y2="586.1" stroke="#255f95" stroke-width="1.1"/>
<text x="193.5" y="588.8000000000001" font-size="7.6" textLength="9.33" lengthAdjust="spacingAndGlyphs" fill="#1a1a1a">PV</text>
<line x1="181.1" y1="594.8" x2="190.6" y2="594.8" stroke="#5cbf63" stroke-width="1.1"/>
<text x="193.5" y="597.5" font-size="7.6" textLength="38.46" lengthAdjust="spacingAndGlyphs" fill="#1a1a1a">Other MPNs</text>
<line x1="461.2" y1="577.2" x2="470.4" y2="577.2" stroke="#c9183f" stroke-width="1.1"/>
<text x="473.8" y="579.9000000000001" font-size="7.6" textLength="8.93" lengthAdjust="spacingAndGlyphs" fill="#1a1a1a">ET</text>
<line x1="461.2" y1="586.2" x2="470.4" y2="586.2" stroke="#255f95" stroke-width="1.1"/>
<text x="473.8" y="588.9000000000001" font-size="7.6" textLength="9.33" lengthAdjust="spacingAndGlyphs" fill="#1a1a1a">PV</text>
<line x1="461.2" y1="594.9" x2="470.4" y2="594.9" stroke="#5cbf63" stroke-width="1.1"/>
<text x="473.8" y="597.6" font-size="7.6" textLength="38.46" lengthAdjust="spacingAndGlyphs" fill="#1a1a1a">Other MPNs</text>
<text x="64.2" y="144.4" font-size="7.3" fill="#1a1a1a" textLength="20.0" lengthAdjust="spacingAndGlyphs"><tspan font-style="italic">p</tspan>=.63</text>
<text x="341.4" y="144.4" font-size="7.3" fill="#1a1a1a" textLength="19.8" lengthAdjust="spacingAndGlyphs"><tspan font-style="italic">p</tspan>=.02</text>
<text x="64.2" y="369.2" font-size="7.3" fill="#1a1a1a" textLength="20.0" lengthAdjust="spacingAndGlyphs"><tspan font-style="italic">p</tspan>=.33</text>
<text x="341.4" y="369.2" font-size="7.3" fill="#1a1a1a" textLength="19.8" lengthAdjust="spacingAndGlyphs"><tspan font-style="italic">p</tspan>=.56</text>
<text x="64.2" y="597.4" font-size="7.3" fill="#1a1a1a" textLength="20.0" lengthAdjust="spacingAndGlyphs"><tspan font-style="italic">p</tspan>=.46</text>
<text x="341.4" y="597.4" font-size="7.3" fill="#1a1a1a" textLength="19.8" lengthAdjust="spacingAndGlyphs"><tspan font-style="italic">p</tspan>=.01</text>
<text x="433.3" y="81.2" font-size="7" textLength="44.8" lengthAdjust="spacingAndGlyphs" fill="#1a1a1a">Median=28.5y</text>
<text x="467.6" y="548.8" font-size="7" textLength="38.6" lengthAdjust="spacingAndGlyphs" fill="#1a1a1a">Median=40y</text>
<text x="48.0" y="185.0" font-size="7.6" textLength="47.4" lengthAdjust="spacingAndGlyphs" fill="#1a1a1a">Number at risk</text>
<text x="32.9" y="196.3" font-size="7.7" textLength="8.3" lengthAdjust="spacingAndGlyphs" fill="#1a1a1a">ET</text>
<text x="54.50" y="196.3" font-size="7.8" text-anchor="middle" textLength="13.01" lengthAdjust="spacingAndGlyphs" fill="#1a1a1a">317</text>
<text x="90.40" y="196.3" font-size="7.8" text-anchor="middle" textLength="12.43" lengthAdjust="spacingAndGlyphs" fill="#1a1a1a">115</text>
<text x="126.30" y="196.3" font-size="7.8" text-anchor="middle" textLength="8.68" lengthAdjust="spacingAndGlyphs" fill="#1a1a1a">23</text>
<text x="162.20" y="196.3" font-size="7.8" text-anchor="middle" textLength="4.34" lengthAdjust="spacingAndGlyphs" fill="#1a1a1a">5</text>
<text x="198.10" y="196.3" font-size="7.8" text-anchor="middle" textLength="4.34" lengthAdjust="spacingAndGlyphs" fill="#1a1a1a">2</text>
<text x="32.9" y="207.4" font-size="7.7" textLength="9.3" lengthAdjust="spacingAndGlyphs" fill="#1a1a1a">PV</text>
<text x="54.50" y="207.4" font-size="7.8" text-anchor="middle" textLength="8.68" lengthAdjust="spacingAndGlyphs" fill="#1a1a1a">80</text>
<text x="90.40" y="207.4" font-size="7.8" text-anchor="middle" textLength="8.68" lengthAdjust="spacingAndGlyphs" fill="#1a1a1a">36</text>
<text x="126.30" y="207.4" font-size="7.8" text-anchor="middle" textLength="8.68" lengthAdjust="spacingAndGlyphs" fill="#1a1a1a">12</text>
<text x="162.20" y="207.4" font-size="7.8" text-anchor="middle" textLength="4.34" lengthAdjust="spacingAndGlyphs" fill="#1a1a1a">4</text>
<text x="198.10" y="207.4" font-size="7.8" text-anchor="middle" textLength="4.34" lengthAdjust="spacingAndGlyphs" fill="#1a1a1a">2</text>
<text x="32.9" y="218.5" font-size="7.7" textLength="5.7" lengthAdjust="spacingAndGlyphs" fill="#1a1a1a">O</text>
<text x="54.50" y="218.5" font-size="7.8" text-anchor="middle" textLength="8.68" lengthAdjust="spacingAndGlyphs" fill="#1a1a1a">45</text>
<text x="90.40" y="218.5" font-size="7.8" text-anchor="middle" textLength="8.68" lengthAdjust="spacingAndGlyphs" fill="#1a1a1a">18</text>
<text x="126.30" y="218.5" font-size="7.8" text-anchor="middle" textLength="4.34" lengthAdjust="spacingAndGlyphs" fill="#1a1a1a">4</text>
<text x="162.20" y="218.5" font-size="7.8" text-anchor="middle" textLength="4.34" lengthAdjust="spacingAndGlyphs" fill="#1a1a1a">1</text>
<text x="198.10" y="218.5" font-size="7.8" text-anchor="middle" textLength="4.34" lengthAdjust="spacingAndGlyphs" fill="#1a1a1a">0</text>
<text x="324.7" y="185.0" font-size="7.6" textLength="47.4" lengthAdjust="spacingAndGlyphs" fill="#1a1a1a">Number at risk</text>
<text x="304.0" y="196.3" font-size="7.7" textLength="15.3" lengthAdjust="spacingAndGlyphs" fill="#1a1a1a">JAK2</text>
<text x="331.50" y="196.3" font-size="7.8" text-anchor="middle" textLength="13.01" lengthAdjust="spacingAndGlyphs" fill="#1a1a1a">153</text>
<text x="366.20" y="196.3" font-size="7.8" text-anchor="middle" textLength="8.68" lengthAdjust="spacingAndGlyphs" fill="#1a1a1a">49</text>
<text x="400.90" y="196.3" font-size="7.8" text-anchor="middle" textLength="8.68" lengthAdjust="spacingAndGlyphs" fill="#1a1a1a">10</text>
<text x="435.60" y="196.3" font-size="7.8" text-anchor="middle" textLength="4.34" lengthAdjust="spacingAndGlyphs" fill="#1a1a1a">2</text>
<text x="470.30" y="196.3" font-size="7.8" text-anchor="middle" textLength="4.34" lengthAdjust="spacingAndGlyphs" fill="#1a1a1a">1</text>
<text x="304.0" y="207.4" font-size="7.7" textLength="17.6" lengthAdjust="spacingAndGlyphs" fill="#1a1a1a">CALR</text>
<text x="331.50" y="207.4" font-size="7.8" text-anchor="middle" textLength="8.68" lengthAdjust="spacingAndGlyphs" fill="#1a1a1a">46</text>
<text x="366.20" y="207.4" font-size="7.8" text-anchor="middle" textLength="8.68" lengthAdjust="spacingAndGlyphs" fill="#1a1a1a">18</text>
<text x="400.90" y="207.4" font-size="7.8" text-anchor="middle" textLength="4.34" lengthAdjust="spacingAndGlyphs" fill="#1a1a1a">5</text>
<text x="435.60" y="207.4" font-size="7.8" text-anchor="middle" textLength="4.34" lengthAdjust="spacingAndGlyphs" fill="#1a1a1a">0</text>
<text x="470.30" y="207.4" font-size="7.8" text-anchor="middle" textLength="4.34" lengthAdjust="spacingAndGlyphs" fill="#1a1a1a">0</text>
<text x="304.0" y="218.5" font-size="7.7" textLength="18.6" lengthAdjust="spacingAndGlyphs" fill="#1a1a1a">3NEG</text>
<text x="331.50" y="218.5" font-size="7.8" text-anchor="middle" textLength="8.68" lengthAdjust="spacingAndGlyphs" fill="#1a1a1a">86</text>
<text x="366.20" y="218.5" font-size="7.8" text-anchor="middle" textLength="8.68" lengthAdjust="spacingAndGlyphs" fill="#1a1a1a">32</text>
<text x="400.90" y="218.5" font-size="7.8" text-anchor="middle" textLength="4.34" lengthAdjust="spacingAndGlyphs" fill="#1a1a1a">5</text>
<text x="435.60" y="218.5" font-size="7.8" text-anchor="middle" textLength="4.34" lengthAdjust="spacingAndGlyphs" fill="#1a1a1a">3</text>
<text x="470.30" y="218.5" font-size="7.8" text-anchor="middle" textLength="4.34" lengthAdjust="spacingAndGlyphs" fill="#1a1a1a">1</text>
<text x="48.0" y="409.8" font-size="7.6" textLength="47.4" lengthAdjust="spacingAndGlyphs" fill="#1a1a1a">Number at risk</text>
<text x="32.9" y="421.1" font-size="7.7" textLength="8.3" lengthAdjust="spacingAndGlyphs" fill="#1a1a1a">ET</text>
<text x="54.50" y="421.1" font-size="7.8" text-anchor="middle" textLength="12.43" lengthAdjust="spacingAndGlyphs" fill="#1a1a1a">311</text>
<text x="90.40" y="421.1" font-size="7.8" text-anchor="middle" textLength="13.01" lengthAdjust="spacingAndGlyphs" fill="#1a1a1a">120</text>
<text x="126.30" y="421.1" font-size="7.8" text-anchor="middle" textLength="8.68" lengthAdjust="spacingAndGlyphs" fill="#1a1a1a">27</text>
<text x="162.20" y="421.1" font-size="7.8" text-anchor="middle" textLength="4.34" lengthAdjust="spacingAndGlyphs" fill="#1a1a1a">4</text>
<text x="198.10" y="421.1" font-size="7.8" text-anchor="middle" textLength="4.34" lengthAdjust="spacingAndGlyphs" fill="#1a1a1a">2</text>
<text x="32.9" y="432.20000000000005" font-size="7.7" textLength="9.3" lengthAdjust="spacingAndGlyphs" fill="#1a1a1a">PV</text>
<text x="54.50" y="432.20000000000005" font-size="7.8" text-anchor="middle" textLength="8.68" lengthAdjust="spacingAndGlyphs" fill="#1a1a1a">79</text>
<text x="90.40" y="432.20000000000005" font-size="7.8" text-anchor="middle" textLength="8.68" lengthAdjust="spacingAndGlyphs" fill="#1a1a1a">39</text>
<text x="126.30" y="432.20000000000005" font-size="7.8" text-anchor="middle" textLength="8.68" lengthAdjust="spacingAndGlyphs" fill="#1a1a1a">14</text>
<text x="162.20" y="432.20000000000005" font-size="7.8" text-anchor="middle" textLength="4.34" lengthAdjust="spacingAndGlyphs" fill="#1a1a1a">5</text>
<text x="198.10" y="432.20000000000005" font-size="7.8" text-anchor="middle" textLength="4.34" lengthAdjust="spacingAndGlyphs" fill="#1a1a1a">1</text>
<text x="32.9" y="443.3" font-size="7.7" textLength="5.7" lengthAdjust="spacingAndGlyphs" fill="#1a1a1a">O</text>
<text x="54.50" y="443.3" font-size="7.8" text-anchor="middle" textLength="8.68" lengthAdjust="spacingAndGlyphs" fill="#1a1a1a">45</text>
<text x="90.40" y="443.3" font-size="7.8" text-anchor="middle" textLength="8.68" lengthAdjust="spacingAndGlyphs" fill="#1a1a1a">18</text>
<text x="126.30" y="443.3" font-size="7.8" text-anchor="middle" textLength="4.34" lengthAdjust="spacingAndGlyphs" fill="#1a1a1a">5</text>
<text x="162.20" y="443.3" font-size="7.8" text-anchor="middle" textLength="4.34" lengthAdjust="spacingAndGlyphs" fill="#1a1a1a">1</text>
<text x="198.10" y="443.3" font-size="7.8" text-anchor="middle" textLength="4.34" lengthAdjust="spacingAndGlyphs" fill="#1a1a1a">0</text>
<text x="324.7" y="409.8" font-size="7.6" textLength="47.4" lengthAdjust="spacingAndGlyphs" fill="#1a1a1a">Number at risk</text>
<text x="304.0" y="421.1" font-size="7.7" textLength="15.3" lengthAdjust="spacingAndGlyphs" fill="#1a1a1a">JAK2</text>
<text x="331.50" y="421.1" font-size="7.8" text-anchor="middle" textLength="13.01" lengthAdjust="spacingAndGlyphs" fill="#1a1a1a">151</text>
<text x="366.50" y="421.1" font-size="7.8" text-anchor="middle" textLength="8.68" lengthAdjust="spacingAndGlyphs" fill="#1a1a1a">59</text>
<text x="401.50" y="421.1" font-size="7.8" text-anchor="middle" textLength="8.68" lengthAdjust="spacingAndGlyphs" fill="#1a1a1a">14</text>
<text x="436.50" y="421.1" font-size="7.8" text-anchor="middle" textLength="4.34" lengthAdjust="spacingAndGlyphs" fill="#1a1a1a">1</text>
<text x="471.50" y="421.1" font-size="7.8" text-anchor="middle" textLength="4.34" lengthAdjust="spacingAndGlyphs" fill="#1a1a1a">1</text>
<text x="304.0" y="432.20000000000005" font-size="7.7" textLength="17.6" lengthAdjust="spacingAndGlyphs" fill="#1a1a1a">CALR</text>
<text x="331.50" y="432.20000000000005" font-size="7.8" text-anchor="middle" textLength="8.68" lengthAdjust="spacingAndGlyphs" fill="#1a1a1a">44</text>
<text x="366.50" y="432.20000000000005" font-size="7.8" text-anchor="middle" textLength="8.68" lengthAdjust="spacingAndGlyphs" fill="#1a1a1a">16</text>
<text x="401.50" y="432.20000000000005" font-size="7.8" text-anchor="middle" textLength="4.34" lengthAdjust="spacingAndGlyphs" fill="#1a1a1a">4</text>
<text x="436.50" y="432.20000000000005" font-size="7.8" text-anchor="middle" textLength="4.34" lengthAdjust="spacingAndGlyphs" fill="#1a1a1a">0</text>
<text x="471.50" y="432.20000000000005" font-size="7.8" text-anchor="middle" textLength="4.34" lengthAdjust="spacingAndGlyphs" fill="#1a1a1a">0</text>
<text x="304.0" y="443.3" font-size="7.7" textLength="18.6" lengthAdjust="spacingAndGlyphs" fill="#1a1a1a">3NEG</text>
<text x="331.50" y="443.3" font-size="7.8" text-anchor="middle" textLength="8.68" lengthAdjust="spacingAndGlyphs" fill="#1a1a1a">84</text>
<text x="366.50" y="443.3" font-size="7.8" text-anchor="middle" textLength="8.68" lengthAdjust="spacingAndGlyphs" fill="#1a1a1a">31</text>
<text x="401.50" y="443.3" font-size="7.8" text-anchor="middle" textLength="4.34" lengthAdjust="spacingAndGlyphs" fill="#1a1a1a">6</text>
<text x="436.50" y="443.3" font-size="7.8" text-anchor="middle" textLength="4.34" lengthAdjust="spacingAndGlyphs" fill="#1a1a1a">3</text>
<text x="471.50" y="443.3" font-size="7.8" text-anchor="middle" textLength="4.34" lengthAdjust="spacingAndGlyphs" fill="#1a1a1a">1</text>
<text x="48.0" y="638.0" font-size="7.6" textLength="47.4" lengthAdjust="spacingAndGlyphs" fill="#1a1a1a">Number at risk</text>
<text x="32.9" y="649.3" font-size="7.7" textLength="8.3" lengthAdjust="spacingAndGlyphs" fill="#1a1a1a">ET</text>
<text x="54.50" y="649.3" font-size="7.8" text-anchor="middle" textLength="13.01" lengthAdjust="spacingAndGlyphs" fill="#1a1a1a">317</text>
<text x="90.40" y="649.3" font-size="7.8" text-anchor="middle" textLength="13.01" lengthAdjust="spacingAndGlyphs" fill="#1a1a1a">120</text>
<text x="126.30" y="649.3" font-size="7.8" text-anchor="middle" textLength="8.68" lengthAdjust="spacingAndGlyphs" fill="#1a1a1a">21</text>
<text x="162.20" y="649.3" font-size="7.8" text-anchor="middle" textLength="4.34" lengthAdjust="spacingAndGlyphs" fill="#1a1a1a">4</text>
<text x="198.10" y="649.3" font-size="7.8" text-anchor="middle" textLength="4.34" lengthAdjust="spacingAndGlyphs" fill="#1a1a1a">2</text>
<text x="32.9" y="660.4" font-size="7.7" textLength="9.3" lengthAdjust="spacingAndGlyphs" fill="#1a1a1a">PV</text>
<text x="54.50" y="660.4" font-size="7.8" text-anchor="middle" textLength="8.68" lengthAdjust="spacingAndGlyphs" fill="#1a1a1a">80</text>
<text x="90.40" y="660.4" font-size="7.8" text-anchor="middle" textLength="8.68" lengthAdjust="spacingAndGlyphs" fill="#1a1a1a">39</text>
<text x="126.30" y="660.4" font-size="7.8" text-anchor="middle" textLength="8.68" lengthAdjust="spacingAndGlyphs" fill="#1a1a1a">14</text>
<text x="162.20" y="660.4" font-size="7.8" text-anchor="middle" textLength="4.34" lengthAdjust="spacingAndGlyphs" fill="#1a1a1a">4</text>
<text x="198.10" y="660.4" font-size="7.8" text-anchor="middle" textLength="4.34" lengthAdjust="spacingAndGlyphs" fill="#1a1a1a">2</text>
<text x="32.9" y="671.5" font-size="7.7" textLength="5.7" lengthAdjust="spacingAndGlyphs" fill="#1a1a1a">O</text>
<text x="54.50" y="671.5" font-size="7.8" text-anchor="middle" textLength="8.68" lengthAdjust="spacingAndGlyphs" fill="#1a1a1a">45</text>
<text x="90.40" y="671.5" font-size="7.8" text-anchor="middle" textLength="8.68" lengthAdjust="spacingAndGlyphs" fill="#1a1a1a">18</text>
<text x="126.30" y="671.5" font-size="7.8" text-anchor="middle" textLength="4.34" lengthAdjust="spacingAndGlyphs" fill="#1a1a1a">6</text>
<text x="162.20" y="671.5" font-size="7.8" text-anchor="middle" textLength="4.34" lengthAdjust="spacingAndGlyphs" fill="#1a1a1a">1</text>
<text x="198.10" y="671.5" font-size="7.8" text-anchor="middle" textLength="4.34" lengthAdjust="spacingAndGlyphs" fill="#1a1a1a">0</text>
<text x="324.7" y="638.0" font-size="7.6" textLength="47.4" lengthAdjust="spacingAndGlyphs" fill="#1a1a1a">Number at risk</text>
<text x="304.0" y="649.3" font-size="7.7" textLength="8.3" lengthAdjust="spacingAndGlyphs" fill="#1a1a1a">ET</text>
<text x="331.60" y="649.3" font-size="7.8" text-anchor="middle" textLength="13.01" lengthAdjust="spacingAndGlyphs" fill="#1a1a1a">317</text>
<text x="368.00" y="649.3" font-size="7.8" text-anchor="middle" textLength="13.01" lengthAdjust="spacingAndGlyphs" fill="#1a1a1a">130</text>
<text x="404.40" y="649.3" font-size="7.8" text-anchor="middle" textLength="8.68" lengthAdjust="spacingAndGlyphs" fill="#1a1a1a">28</text>
<text x="440.80" y="649.3" font-size="7.8" text-anchor="middle" textLength="4.34" lengthAdjust="spacingAndGlyphs" fill="#1a1a1a">5</text>
<text x="477.20" y="649.3" font-size="7.8" text-anchor="middle" textLength="4.34" lengthAdjust="spacingAndGlyphs" fill="#1a1a1a">2</text>
<text x="304.0" y="660.4" font-size="7.7" textLength="9.3" lengthAdjust="spacingAndGlyphs" fill="#1a1a1a">PV</text>
<text x="331.60" y="660.4" font-size="7.8" text-anchor="middle" textLength="8.68" lengthAdjust="spacingAndGlyphs" fill="#1a1a1a">80</text>
<text x="368.00" y="660.4" font-size="7.8" text-anchor="middle" textLength="8.68" lengthAdjust="spacingAndGlyphs" fill="#1a1a1a">39</text>
<text x="404.40" y="660.4" font-size="7.8" text-anchor="middle" textLength="8.68" lengthAdjust="spacingAndGlyphs" fill="#1a1a1a">15</text>
<text x="440.80" y="660.4" font-size="7.8" text-anchor="middle" textLength="4.34" lengthAdjust="spacingAndGlyphs" fill="#1a1a1a">5</text>
<text x="477.20" y="660.4" font-size="7.8" text-anchor="middle" textLength="4.34" lengthAdjust="spacingAndGlyphs" fill="#1a1a1a">2</text>
<text x="304.0" y="671.5" font-size="7.7" textLength="5.7" lengthAdjust="spacingAndGlyphs" fill="#1a1a1a">O</text>
<text x="331.60" y="671.5" font-size="7.8" text-anchor="middle" textLength="8.68" lengthAdjust="spacingAndGlyphs" fill="#1a1a1a">45</text>
<text x="368.00" y="671.5" font-size="7.8" text-anchor="middle" textLength="8.68" lengthAdjust="spacingAndGlyphs" fill="#1a1a1a">19</text>
<text x="404.40" y="671.5" font-size="7.8" text-anchor="middle" textLength="4.34" lengthAdjust="spacingAndGlyphs" fill="#1a1a1a">6</text>
<text x="440.80" y="671.5" font-size="7.8" text-anchor="middle" textLength="4.34" lengthAdjust="spacingAndGlyphs" fill="#1a1a1a">1</text>
<text x="477.20" y="671.5" font-size="7.8" text-anchor="middle" textLength="4.34" lengthAdjust="spacingAndGlyphs" fill="#1a1a1a">0</text>
</svg>
</div></body></html>
